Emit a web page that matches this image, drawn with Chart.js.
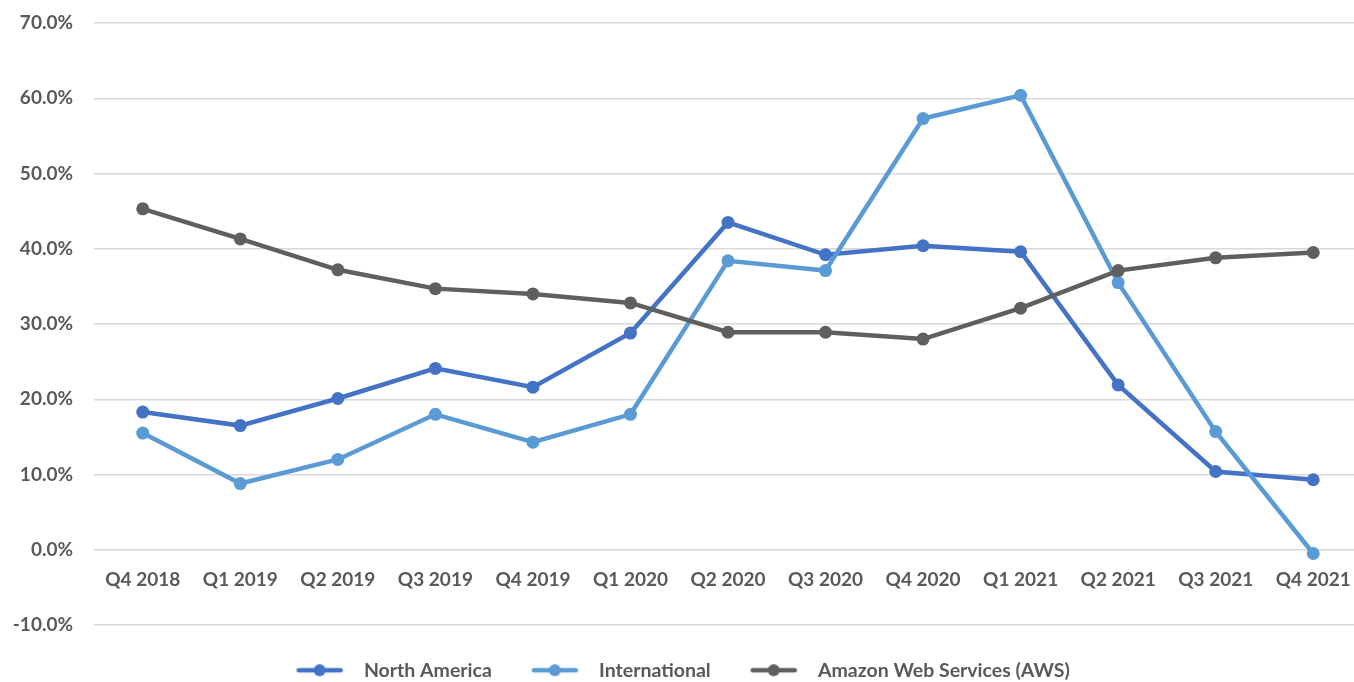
<!DOCTYPE html>
<html>
<head>
<meta charset="utf-8">
<script src="https://cdn.jsdelivr.net/npm/chart.js@4.4.1/dist/chart.umd.min.js"></script>
<style>
  html, body { margin: 0; padding: 0; background: #fff; overflow: hidden; }
  #wrap { position: relative; width: 1354px; height: 682px; overflow: hidden; }
  #c { display: block; position: absolute; left: 0; top: 0; }
</style>
</head>
<body>
<div id="wrap"><canvas id="c" width="1362" height="700"></canvas></div>
<script>
const categories = ['Q4 2018','Q1 2019','Q2 2019','Q3 2019','Q4 2019','Q1 2020','Q2 2020','Q3 2020','Q4 2020','Q1 2021','Q2 2021','Q3 2021','Q4 2021'];
const northAmerica = [18.3, 16.5, 20.1, 24.1, 21.6, 28.8, 43.5, 39.2, 40.4, 39.6, 21.9, 10.4, 9.3];
const international = [15.5, 8.8, 12.0, 18.0, 14.3, 18.0, 38.4, 37.1, 57.3, 60.4, 35.5, 15.7, -0.5];
const aws = [45.3, 41.3, 37.2, 34.7, 34.0, 32.8, 28.9, 28.9, 28.0, 32.1, 37.1, 38.8, 39.5];
const seriesNames = ['North America', 'International', 'Amazon Web Services (AWS)'];
const seriesColors = ['#4472C4', '#5B9BD5', '#5f5f5f'];

const FONT = 'Lato, "Open Sans", sans-serif';
const TEXT = '#595959';

function markerImage(color) {
  const c = document.createElement('canvas');
  c.width = 64; c.height = 16;
  const g = c.getContext('2d');
  g.strokeStyle = color; g.lineWidth = 4.5; g.lineCap = 'round';
  g.beginPath(); g.moveTo(7.5, 8); g.lineTo(49.5, 8); g.stroke();
  g.fillStyle = color;
  g.beginPath(); g.arc(28.5, 8, 6, 0, Math.PI * 2); g.fill();
  return c;
}
const markers = seriesColors.map(markerImage);

const seriesData = [northAmerica, international, aws];
const datasets = seriesData.map((d, i) => ({
  label: seriesNames[i],
  data: d,
  borderColor: seriesColors[i],
  backgroundColor: seriesColors[i],
  borderWidth: 4.5,
  pointRadius: 6.5,
  pointHoverRadius: 6.5,
  pointBorderWidth: 0,
  tension: 0,
  order: 3 - i
}));

new Chart(document.getElementById('c'), {
  type: 'line',
  data: { labels: categories, datasets },
  options: {
    responsive: false,
    animation: false,
    devicePixelRatio: 1,
    layout: { autoPadding: false, padding: { top: 23, left: 0, right: 0, bottom: 10 } },
    plugins: {
      tooltip: { enabled: false },
      legend: {
        position: 'bottom',
        labels: {
          usePointStyle: true,
          pointStyleWidth: 62,
          padding: 35.5,
          color: TEXT,
          font: { family: FONT, size: 19.5, weight: 'bold' },
          generateLabels: (chart) => chart.data.datasets.map((ds, i) => ({
            text: ds.label,
            fillStyle: ds.borderColor,
            strokeStyle: ds.borderColor,
            pointStyle: markers[i],
            fontColor: TEXT,
            lineWidth: 0,
            hidden: false,
            datasetIndex: i
          }))
        }
      }
    },
    scales: {
      x: {
        type: 'category',
        offset: true,
        position: { y: 0 },
        grid: { display: false, drawTicks: false },
        border: { display: false },
        afterFit: (s) => { s.paddingLeft = 0; s.paddingRight = 0; },
        ticks: {
          color: TEXT,
          padding: 19,
          maxRotation: 0,
          autoSkip: false,
          font: { family: FONT, size: 19, weight: 'bold' }
        }
      },
      y: {
        min: -10,
        max: 70,
        grid: { color: '#d9d9d9', lineWidth: 1.5, drawTicks: false },
        border: { display: false },
        afterFit: (s) => { s.width = 94; s.paddingTop = 0; s.paddingBottom = 0; },
        ticks: {
          stepSize: 10,
          color: TEXT,
          padding: 21,
          font: { family: FONT, size: 19, weight: 'bold' },
          callback: (v) => Number(v).toFixed(1) + '%'
        }
      }
    }
  }
});
</script>
</body>
</html>
